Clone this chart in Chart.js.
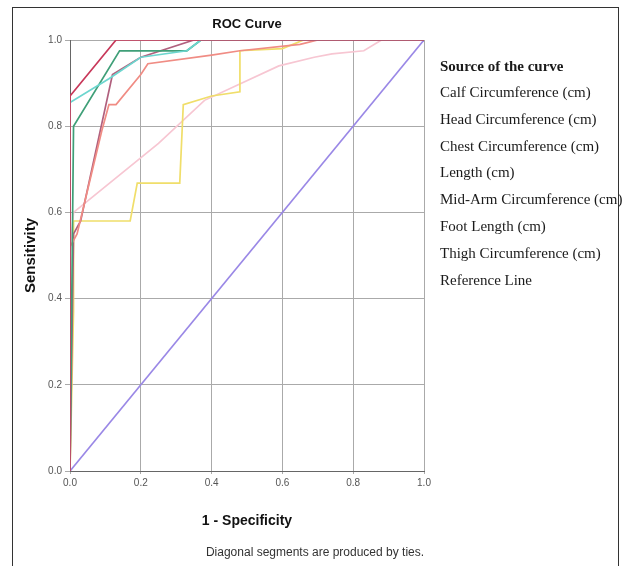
<!DOCTYPE html>
<html>
<head>
<meta charset="utf-8">
<script src="https://cdn.jsdelivr.net/npm/chart.js@4.4.1/dist/chart.umd.min.js"></script>
<style>
  html, body { margin: 0; padding: 0; background: #fff; overflow: hidden; }
  #wrap { position: relative; width: 627px; height: 566px; }
  #frame { position: absolute; left: 12px; top: 7px; width: 607px; height: 600px; border: 1px solid #333; box-sizing: border-box; pointer-events: none; }
</style>
</head>
<body>
<div id="wrap">
  <canvas id="rocChart" width="627" height="566"></canvas>
  <div id="frame"></div>
</div>
<script>
// series labels (legend order)
const seriesNames = [
    "Calf Circumference (cm)",
    "Head Circumference (cm)",
    "Chest Circumference (cm)",
    "Length (cm)",
    "Mid-Arm Circumference (cm)",
    "Foot Length (cm)",
    "Thigh Circumference (cm)",
    "Reference Line"
];

// 1 - specificity / sensitivity
const calfFpr = [0, 0, 0.01, 0.13, 1];
const calfTpr = [0, 0.87, 0.88, 1, 1];

const headFpr = [0, 0, 0.11, 0.2, 0.33, 0.37, 1];
const headTpr = [0, 0.855, 0.91, 0.96, 0.975, 1, 1];

const chestFpr = [0, 0.01, 0.14, 0.33, 0.37, 1];
const chestTpr = [0, 0.8, 0.975, 0.975, 1, 1];

const lengthFpr = [0, 0, 0.02, 0.09, 0.11, 0.13, 0.2, 0.22, 0.4, 0.48, 0.65, 0.7, 1];
const lengthTpr = [0, 0.52, 0.55, 0.79, 0.85, 0.85, 0.92, 0.945, 0.965, 0.975, 0.99, 1, 1];

const midArmFpr = [0, 0.01, 0.03, 0.12, 0.2, 0.35, 1];
const midArmTpr = [0, 0.55, 0.58, 0.92, 0.96, 1, 1];

const footFpr = [0, 0.01, 0.01, 0.17, 0.19, 0.31, 0.32, 0.4, 0.48, 0.48, 0.6, 0.66, 1];
const footTpr = [0, 0.37, 0.58, 0.58, 0.668, 0.668, 0.85, 0.87, 0.88, 0.975, 0.98, 1, 1];

const thighFpr = [0, 0, 0.01, 0.25, 0.38, 0.59, 0.69, 0.74, 0.83, 0.88, 1];
const thighTpr = [0, 0.5, 0.6, 0.76, 0.86, 0.94, 0.96, 0.968, 0.975, 1, 1];

const refFpr = [0, 1];
const refTpr = [0, 1];

const tickValues = [0, 0.2, 0.4, 0.6, 0.8, 1.0];

const lineColors = ["#c8385a", "#6cd6cf", "#3f9f78", "#f08c84", "#b0607e", "#f0de6a", "#f7c6d2", "#9a88e6"];

const fprSets = [calfFpr, headFpr, chestFpr, lengthFpr, midArmFpr, footFpr, thighFpr, refFpr];
const tprSets = [calfTpr, headTpr, chestTpr, lengthTpr, midArmTpr, footTpr, thighTpr, refTpr];

const datasets = seriesNames.map((name, i) => ({
    label: name,
    data: fprSets[i].map((x, j) => ({ x: x, y: tprSets[i][j] })),
    showLine: true,
    borderColor: lineColors[i],
    backgroundColor: lineColors[i],
    borderWidth: 1.7,
    pointRadius: 0,
    tension: 0,
    fill: false
}));

// titles, footnote and the text-only legend
const textPlugin = {
    id: "textPlugin",
    afterDraw(chart) {
        const c = chart.ctx;
        const area = chart.chartArea;
        const cx = (area.left + area.right) / 2;
        c.save();
        c.fillStyle = "#111";
        c.textAlign = "center";
        c.textBaseline = "middle";
        c.font = "bold 13px 'Liberation Sans', Arial, sans-serif";
        c.fillText("ROC Curve", cx, 24);
        c.font = "bold 14px 'Liberation Sans', Arial, sans-serif";
        c.fillText("1 - Specificity", cx, 521);
        c.font = "12px 'Liberation Sans', Arial, sans-serif";
        c.fillStyle = "#333";
        c.fillText("Diagonal segments are produced by ties.", 315, 553);
        c.save();
        c.translate(31, (area.top + area.bottom) / 2);
        c.rotate(-Math.PI / 2);
        c.fillStyle = "#111";
        c.font = "bold 15px 'Liberation Sans', Arial, sans-serif";
        c.fillText("Sensitivity", 0, 0);
        c.restore();

        c.textAlign = "left";
        c.fillStyle = "#1a1a1a";
        c.font = "bold 15px 'Liberation Serif', 'Times New Roman', serif";
        c.fillText("Source of the curve", 440, 67);
        c.font = "15px 'Liberation Serif', 'Times New Roman', serif";
        chart.data.datasets.forEach((ds, i) => {
            c.fillText(ds.label, 440, 93 + i * 26.8);
        });
        c.restore();
    }
};

const ctx = document.getElementById("rocChart").getContext("2d");

const chart = new Chart(ctx, {
    type: "scatter",
    data: { datasets: datasets },
    plugins: [textPlugin],
    options: {
        responsive: false,
        animation: false,
        layout: { padding: { left: 0, top: 40, right: 203, bottom: 0 } },
        plugins: {
            legend: { display: false },
            tooltip: { enabled: false }
        },
        scales: {
            x: {
                type: "linear",
                min: 0,
                max: 1,
                afterFit: (s) => { s.height = 95; },
                afterBuildTicks: (s) => { s.ticks = tickValues.map(v => ({ value: v })); },
                ticks: {
                    callback: (v) => v.toFixed(1),
                    color: "#555",
                    font: { size: 10, family: "'Liberation Sans', Arial, sans-serif" },
                    padding: 3,
                    maxRotation: 0
                },
                grid: { color: "#aaaaaa", lineWidth: 1, tickLength: 3 },
                border: { color: "#666", width: 1 }
            },
            y: {
                type: "linear",
                min: 0,
                max: 1,
                afterFit: (s) => { s.width = 70; },
                afterBuildTicks: (s) => { s.ticks = tickValues.map(v => ({ value: v })); },
                ticks: {
                    callback: (v) => v.toFixed(1),
                    color: "#555",
                    font: { size: 10, family: "'Liberation Sans', Arial, sans-serif" },
                    padding: 3
                },
                grid: { color: "#aaaaaa", lineWidth: 1, tickLength: 5 },
                border: { color: "#666", width: 1 }
            }
        }
    }
});
</script>
</body>
</html>
